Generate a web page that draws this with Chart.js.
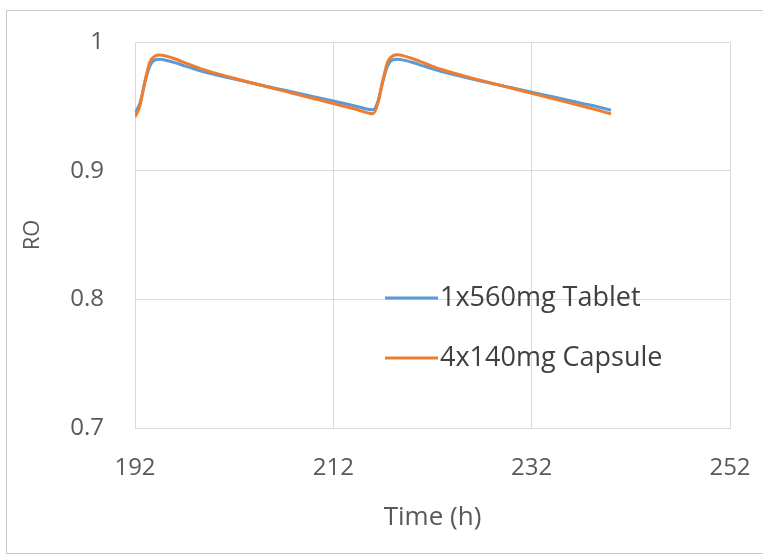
<!DOCTYPE html>
<html lang="en">
<head>
  <meta charset="UTF-8" />
  <title>RO vs Time</title>
  <script src="https://cdn.jsdelivr.net/npm/chart.js"></script>
  <style>
    body {
      margin: 0;
      background: #ffffff;
      width: 763px;
      height: 558px;
      overflow: hidden;
      position: relative;
    }
    .frame {
      position: absolute;
      left: 6px;
      top: 10px;
      width: 780px;
      height: 542px;
      border: 1px solid #c9c9c9;
    }
    .wrap {
      position: absolute;
      left: 0;
      top: 0;
      width: 763px;
      height: 558px;
    }
  </style>
</head>
<body>
  <div class="frame"></div>
  <div class="wrap"><canvas id="roChart"></canvas></div>

  <script>
    // time (h)
    const timeH = [192, 192.5, 193, 193.5, 194, 194.5, 195, 196, 197, 198, 199, 200, 202, 204, 206, 208, 210, 212, 214, 216,
                   216.5, 217, 217.5, 218, 218.5, 219, 220, 221, 222, 223, 224, 226, 228, 230, 232, 234, 236, 238, 240];

    const tabletRO = [0.9450, 0.9525, 0.9685, 0.9815, 0.9860, 0.9865, 0.9860, 0.9840, 0.9815, 0.9790, 0.9767, 0.9748, 0.9712, 0.9677, 0.9643, 0.9609, 0.9575, 0.9541, 0.9507, 0.9473,
                      0.9540, 0.9695, 0.9820, 0.9862, 0.9866, 0.9861, 0.9841, 0.9816, 0.9791, 0.9768, 0.9749, 0.9713, 0.9678, 0.9644, 0.9610, 0.9576, 0.9542, 0.9508, 0.9470];

    const capsuleRO = [0.9415, 0.9505, 0.9695, 0.9845, 0.9890, 0.9898, 0.9893, 0.9870, 0.9840, 0.9810, 0.9783, 0.9760, 0.9718, 0.9678, 0.9639, 0.9600, 0.9561, 0.9522, 0.9483, 0.9443,
                       0.9525, 0.9705, 0.9850, 0.9892, 0.9900, 0.9894, 0.9871, 0.9841, 0.9811, 0.9784, 0.9761, 0.9719, 0.9679, 0.9640, 0.9601, 0.9562, 0.9523, 0.9484, 0.9440];

    const seriesNames = ['1x560mg Tablet', '4x140mg Capsule'];
    const seriesColors = ['#5b9bd5', '#ed7d31'];

    const toPoints = vals => vals.map((v, i) => ({ x: timeH[i], y: v }));

    const FONT = '"Open Sans", sans-serif';

    // legend sits inside the plot in the original
    const insideLegend = {
      id: 'insideLegend',
      afterDraw(chart) {
        const c = chart.ctx;
        const a = chart.chartArea;
        c.save();
        c.font = '27px ' + FONT;
        c.fillStyle = '#404040';
        c.textBaseline = 'middle';
        c.lineWidth = 3;
        seriesNames.forEach((name, i) => {
          const y = a.top + 256 + i * 60;
          const x0 = a.left + 250;
          c.strokeStyle = seriesColors[i];
          c.beginPath();
          c.moveTo(x0, y);
          c.lineTo(x0 + 53, y);
          c.stroke();
          c.fillText(name, x0 + 55, y);
        });
        c.restore();
      }
    };

    const ctx = document.getElementById('roChart').getContext('2d');
    new Chart(ctx, {
      type: 'line',
      data: {
        datasets: [
          {
            label: seriesNames[0],
            data: toPoints(tabletRO),
            borderColor: seriesColors[0],
            borderWidth: 3,
            pointRadius: 0,
            cubicInterpolationMode: 'monotone',
            order: 1
          },
          {
            label: seriesNames[1],
            data: toPoints(capsuleRO),
            borderColor: seriesColors[1],
            borderWidth: 3,
            pointRadius: 0,
            cubicInterpolationMode: 'monotone',
            order: 0
          }
        ]
      },
      options: {
        responsive: true,
        maintainAspectRatio: false,
        animation: false,
        layout: { padding: { left: 16, right: 33, top: 42, bottom: 20 } },
        plugins: {
          legend: { display: false },
          tooltip: { enabled: false }
        },
        scales: {
          x: {
            type: 'linear',
            min: 192,
            max: 252,
            ticks: {
              stepSize: 20,
              padding: 26,
              color: '#595959',
              font: { family: FONT, size: 24 }
            },
            grid: { color: '#d9d9d9', drawTicks: false },
            border: { color: '#d9d9d9' },
            title: {
              display: true,
              text: 'Time (h)',
              color: '#595959',
              font: { family: FONT, size: 26 },
              padding: { top: 0, bottom: 5 }
            },
            afterFit(scale) {
              scale.height = 110;
              scale.paddingLeft = 0;
              scale.paddingRight = 0;
            }
          },
          y: {
            min: 0.7,
            max: 1,
            ticks: {
              stepSize: 0.1,
              padding: 31,
              color: '#595959',
              font: { family: FONT, size: 24 },
              callback: v => (Math.abs(v - 1) < 1e-9 ? '1' : v.toFixed(1))
            },
            grid: { color: '#d9d9d9', drawTicks: false },
            border: { color: '#d9d9d9' },
            title: {
              display: true,
              text: 'RO',
              color: '#595959',
              font: { family: FONT, size: 22 },
              padding: { top: 4, bottom: 0 }
            },
            afterFit(scale) {
              scale.width = 119;
              scale.paddingTop = 0;
              scale.paddingBottom = 0;
            }
          }
        }
      },
      plugins: [insideLegend]
    });
  </script>
</body>
</html>
